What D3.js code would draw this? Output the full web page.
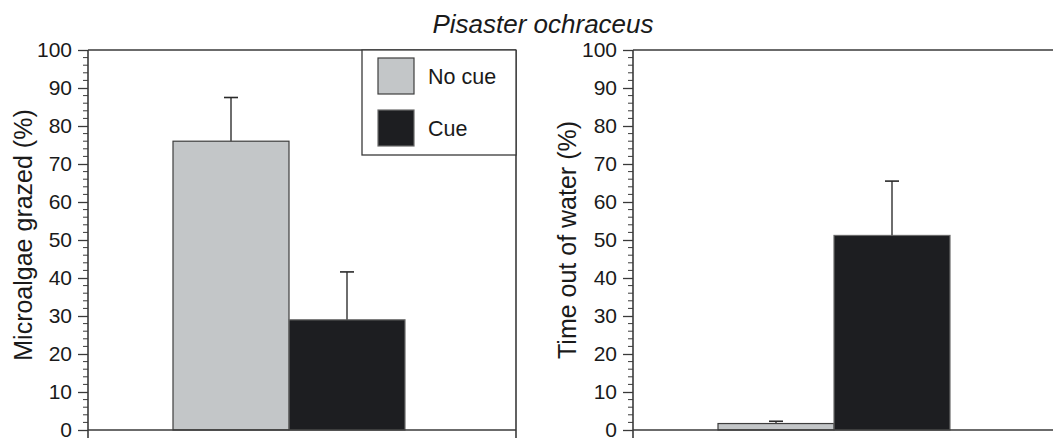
<!DOCTYPE html>
<html>
<head>
<meta charset="utf-8">
<script src="https://cdn.jsdelivr.net/npm/d3@7"></script>
<style>
  html, body { margin: 0; padding: 0; background: #fff; }
  svg { display: block; font-family: "Liberation Sans", Arial, Helvetica, sans-serif; }
</style>
</head>
<body>
<svg id="chart" width="1053" height="440"></svg>
<script>
// Treatments and their fill colours
const treatments = ["No cue", "Cue"];
const treatmentFill = ["#c3c6c8", "#1d1e21"];
const treatmentStroke = ["#3e3e3e", "#6a6a6a"];

// Microalgae grazed (%) — mean and upper error
const grazedMean = [76, 29];
const grazedErr = [11.5, 12.6];

// Time out of water (%) — mean and upper error
const outMean = [1.7, 51.2];
const outErr = [0.6, 14.3];

// Y axis ticks
const majorTicks = [0, 10, 20, 30, 40, 50, 60, 70, 80, 90, 100];
const minorTicks = d3.range(0, 101, 2).filter(v => v % 10 !== 0);

const titleText = "Pisaster ochraceus";
const yLabels = ["Microalgae grazed (%)", "Time out of water (%)"];

const svg = d3.select("#chart");
const lineColor = "#3a3a3a";
const textColor = "#1a1a1a";

const plotTop = 50, plotBottom = 430, plotW = 428;
const y = d3.scaleLinear().domain([0, 100]).range([plotBottom, plotTop]);

svg.append("text")
  .attr("x", 543).attr("y", 33)
  .attr("text-anchor", "middle")
  .attr("font-size", 26)
  .attr("font-style", "italic")
  .attr("fill", textColor)
  .text(titleText);

function panel(left, means, errs, label, labelX, labelY, rightBorder) {
  const g = svg.append("g").attr("transform", `translate(${left},0)`);
  const x = d3.scaleBand().domain(treatments).range([85, 317]).padding(0);

  // bars
  g.selectAll("rect.bar").data(treatments).join("rect")
    .attr("class", "bar")
    .attr("x", d => x(d))
    .attr("width", x.bandwidth())
    .attr("y", (d, i) => y(means[i]))
    .attr("height", (d, i) => y(0) - y(means[i]))
    .attr("fill", (d, i) => treatmentFill[i])
    .attr("stroke", (d, i) => treatmentStroke[i])
    .attr("stroke-width", 1.2);

  // upper error bars
  const eb = g.selectAll("g.err").data(treatments).join("g").attr("class", "err");
  eb.append("line")
    .attr("x1", d => x(d) + x.bandwidth() / 2).attr("x2", d => x(d) + x.bandwidth() / 2)
    .attr("y1", (d, i) => y(means[i])).attr("y2", (d, i) => y(means[i] + errs[i]))
    .attr("stroke", "#4a4a4a").attr("stroke-width", 1.6);
  eb.append("line")
    .attr("x1", d => x(d) + x.bandwidth() / 2 - 7).attr("x2", d => x(d) + x.bandwidth() / 2 + 7)
    .attr("y1", (d, i) => y(means[i] + errs[i])).attr("y2", (d, i) => y(means[i] + errs[i]))
    .attr("stroke", "#2a2a2a").attr("stroke-width", 1.6);

  // frame: top, bottom (x axis), optional right border
  g.append("line").attr("x1", 0).attr("x2", plotW).attr("y1", plotTop).attr("y2", plotTop)
    .attr("stroke", lineColor).attr("stroke-width", 1.4);
  g.append("line").attr("x1", 0).attr("x2", plotW).attr("y1", plotBottom).attr("y2", plotBottom)
    .attr("stroke", lineColor).attr("stroke-width", 1.4);
  if (rightBorder) {
    g.append("line").attr("x1", plotW).attr("x2", plotW).attr("y1", plotTop).attr("y2", plotBottom + 8)
      .attr("stroke", lineColor).attr("stroke-width", 1.6);
  }

  // y axis with major ticks and labels
  const axis = g.append("g").call(
    d3.axisLeft(y).tickValues(majorTicks).tickSize(10).tickPadding(6).tickFormat(d3.format("d"))
  );
  axis.select(".domain").remove();
  axis.selectAll(".tick line").attr("stroke", lineColor).attr("stroke-width", 1.3);
  axis.selectAll(".tick text")
    .attr("font-size", 21)
    .attr("fill", textColor)
    .attr("font-family", "Liberation Sans, Arial, sans-serif");

  // minor ticks
  g.selectAll("line.minor").data(minorTicks).join("line")
    .attr("class", "minor")
    .attr("x1", -5).attr("x2", 0)
    .attr("y1", d => y(d)).attr("y2", d => y(d))
    .attr("stroke", lineColor).attr("stroke-width", 1);

  // axis spine, reaching slightly below zero
  g.append("line").attr("x1", 0).attr("x2", 0).attr("y1", plotTop).attr("y2", plotBottom + 8)
    .attr("stroke", lineColor).attr("stroke-width", 1.6);

  // y label
  g.append("text")
    .attr("transform", `translate(${labelX},${labelY}) rotate(-90)`)
    .attr("text-anchor", "middle")
    .attr("font-size", 25)
    .attr("fill", textColor)
    .text(label);

  return g;
}

const left = panel(88, grazedMean, grazedErr, yLabels[0], -56, 235, true);
panel(633, outMean, outErr, yLabels[1], -57, 240, false);

// legend inside the left panel's upper-right corner
const legend = left.append("g");
legend.append("rect")
  .attr("x", 274).attr("y", plotTop).attr("width", plotW - 274).attr("height", 105)
  .attr("fill", "#fff").attr("stroke", lineColor).attr("stroke-width", 1.3);
treatments.forEach((t, i) => {
  const row = legend.append("g").attr("transform", `translate(290,${58 + i * 52})`);
  row.append("rect").attr("width", 36).attr("height", 36)
    .attr("fill", treatmentFill[i]).attr("stroke", treatmentStroke[i]).attr("stroke-width", 1.2);
  row.append("text").attr("x", 50).attr("y", 26)
    .attr("font-size", 21.5).attr("fill", textColor).text(t);
});
</script>
</body>
</html>
